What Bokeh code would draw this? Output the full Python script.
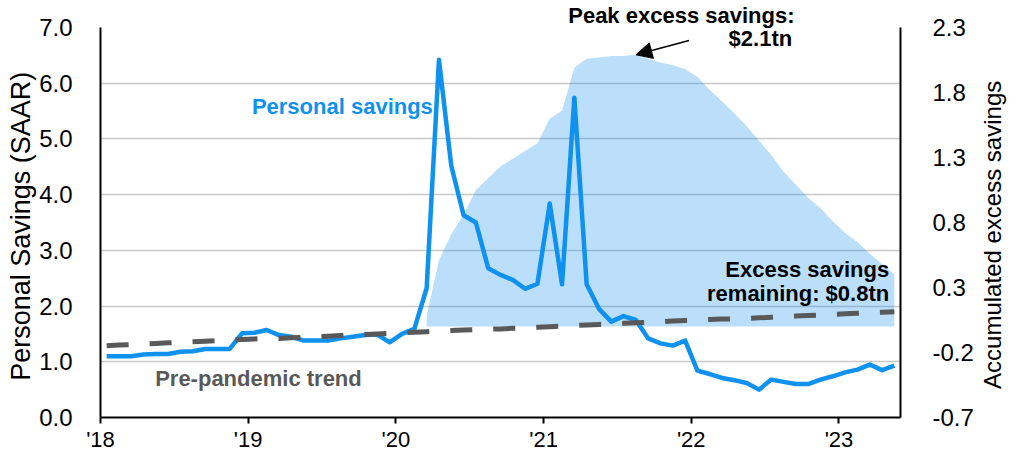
import numpy as np
import pandas as pd
from bokeh.plotting import figure
from bokeh.layouts import row
from bokeh.models import (Range1d, LinearAxis, FixedTicker, NumeralTickFormatter,
                          Label, Arrow, NormalHead)
from bokeh.embed import file_html
from bokeh.resources import INLINE

# ---------------- data ----------------
months = pd.date_range("2018-01-01", periods=65, freq="MS")

personal_savings = [
    1.10, 1.10, 1.10, 1.13, 1.14, 1.14, 1.18, 1.19, 1.23, 1.23, 1.23, 1.51,   # 2018
    1.52, 1.57, 1.48, 1.45, 1.38, 1.38, 1.38, 1.42, 1.45, 1.48, 1.49, 1.35,   # 2019
    1.50, 1.59, 2.32, 6.42, 4.52, 3.63, 3.50, 2.68, 2.56, 2.47, 2.31, 2.40,   # 2020
    3.84, 2.39, 5.74, 2.39, 1.95, 1.72, 1.82, 1.75, 1.42, 1.33, 1.29, 1.38,   # 2021
    0.84, 0.78, 0.71, 0.67, 0.62, 0.50, 0.68, 0.64, 0.60, 0.60, 0.68, 0.74,   # 2022
    0.81, 0.86, 0.95, 0.85, 0.93,                                             # 2023
]

pre_pandemic_trend = [
    1.29, 1.30, 1.31, 1.32, 1.33, 1.34, 1.35, 1.36, 1.37, 1.38, 1.39, 1.40,
    1.41, 1.42, 1.42, 1.43, 1.44, 1.45, 1.46, 1.47, 1.48, 1.49, 1.50, 1.51,
    1.52, 1.53, 1.54, 1.55, 1.56, 1.57, 1.58, 1.59, 1.59, 1.60, 1.61, 1.62,
    1.63, 1.64, 1.65, 1.66, 1.67, 1.68, 1.69, 1.70, 1.71, 1.72, 1.73, 1.74,
    1.75, 1.76, 1.77, 1.77, 1.78, 1.79, 1.80, 1.81, 1.82, 1.83, 1.84, 1.85,
    1.86, 1.87, 1.88, 1.89, 1.90,
]

excess_start = 26  # Mar 2020
accumulated_excess = [
    0.08, 0.51, 0.71, 0.86, 1.05, 1.14, 1.23, 1.29, 1.35, 1.41,
    1.60, 1.66, 1.99, 2.06, 2.07, 2.08, 2.08, 2.09, 2.06, 2.03, 2.01, 1.98,
    1.92, 1.82, 1.73, 1.64, 1.54, 1.43, 1.32, 1.19, 1.09, 0.99, 0.91, 0.81,
    0.72, 0.65, 0.56, 0.48, 0.40,
]

year_ticks = [2018, 2019, 2020, 2021, 2022, 2023]
year_labels = ["'18", "'19", "'20", "'21", "'22", "'23"]
left_ticks = [0, 1, 2, 3, 4, 5, 6, 7]
right_ticks = [-0.7, -0.2, 0.3, 0.8, 1.3, 1.8, 2.3]

# ---------------- derived ----------------
x = np.array(months.year + (months.month - 0.5) / 12.0, dtype=float)
x_area = x[excess_start:excess_start + len(accumulated_excess)]
peak_i = int(np.argmax(accumulated_excess))
peak_x = float(x_area[peak_i])
peak_v = float(accumulated_excess[peak_i])

BLUE = "#0F91F0"
GREY = "#595959"
FONT = "Liberation Sans"

TOP, FRAME_H, BOTTOM = 27, 390, 36
CANVAS_H = TOP + FRAME_H + BOTTOM

p = figure(frame_width=800, frame_height=FRAME_H,
           x_range=Range1d(2018, 2018 + len(months) / 12.0),
           y_range=Range1d(0, 7),
           output_backend="svg", toolbar_location=None,
           min_border_left=100, min_border_right=70,
           min_border_top=TOP, min_border_bottom=BOTTOM)
p.extra_y_ranges = {"right": Range1d(-0.7, 2.3)}
p.outline_line_color = None
p.background_fill_color = "white"
p.border_fill_color = "white"

# top annotation line lives in the title slot (outside the frame)
p.title.text = "Peak excess savings:"
p.title.align = "right"
p.title.offset = 106
p.title.standoff = 0
p.title.text_font = FONT
p.title.text_font_size = "22px"
p.title.text_font_style = "bold"
p.title.text_color = "black"

p.xgrid.visible = False
p.ygrid.grid_line_color = "#C8C8C8"
p.ygrid.grid_line_width = 1.5

# area
p.varea(x=x_area, y1=0, y2=accumulated_excess, y_range_name="right",
        fill_color="#0A8DF0", fill_alpha=0.28)
# lines
p.line(x, personal_savings, line_color=BLUE, line_width=4.5, line_join="round")
p.line(x, pre_pandemic_trend, line_color=GREY, line_width=5, line_dash="22 21")

# left axis
ya = p.yaxis[0]
ya.ticker = FixedTicker(ticks=left_ticks)
ya.formatter = NumeralTickFormatter(format="0.0")
ya.axis_line_color = "black"
ya.axis_line_width = 2
ya.major_tick_line_color = None
ya.minor_tick_line_color = None
ya.major_label_text_font = FONT
ya.major_label_text_font_size = "24px"
ya.major_label_text_color = "black"
ya.major_label_standoff = 22
ya.axis_label = "Personal  Savings (SAAR)"
ya.axis_label_text_font = FONT
ya.axis_label_text_font_size = "27px"
ya.axis_label_text_font_style = "normal"
ya.axis_label_text_color = "black"
ya.axis_label_standoff = 0

# bottom axis
xa = p.xaxis[0]
xa.ticker = FixedTicker(ticks=year_ticks)
xa.major_label_overrides = {t: l for t, l in zip(year_ticks, year_labels)}
xa.axis_line_color = "black"
xa.axis_line_width = 2
xa.major_tick_line_color = "black"
xa.major_tick_line_width = 2
xa.major_tick_in = 0
xa.major_tick_out = 6
xa.minor_tick_line_color = None
xa.major_label_text_font = "'Liberation Sans Narrow', 'Liberation Sans'"
xa.major_label_text_font_size = "22px"
xa.major_label_text_color = "black"
xa.major_label_standoff = 3

# right axis
ra = LinearAxis(y_range_name="right",
                ticker=FixedTicker(ticks=right_ticks),
                formatter=NumeralTickFormatter(format="0.0"))
ra.axis_line_color = "black"
ra.axis_line_width = 2
ra.major_tick_line_color = None
ra.minor_tick_line_color = None
ra.major_label_text_font = FONT
ra.major_label_text_font_size = "24px"
ra.major_label_text_color = "black"
ra.major_label_standoff = 26
p.add_layout(ra, "right")

# annotations
lab = dict(text_font=FONT, text_font_style="bold", text_font_size="22px",
           text_baseline="middle")
p.add_layout(Label(x=2019.025, y=5.59, text="Personal savings", text_color=BLUE, **lab))
p.add_layout(Label(x=2018.37, y=0.70, text="Pre-pandemic trend", text_color=GREY, **lab))
p.add_layout(Label(x=2022.683, y=6.80, text="$2.1tn",
                   text_color="black", text_align="right", **lab))
p.add_layout(Label(x=2023.34, y=2.65, text="Excess savings",
                   text_color="black", text_align="right", **lab))
p.add_layout(Label(x=2023.34, y=2.23, text="remaining: $0.8tn",
                   text_color="black", text_align="right", **lab))

p.add_layout(Arrow(end=NormalHead(size=16, fill_color="black", line_color="black"),
                   x_start=peak_x + 0.36, y_start=2.20, x_end=peak_x, y_end=peak_v,
                   y_range_name="right", line_color="black", line_width=1.5))

# narrow strip carrying the right-hand axis title (reads bottom-to-top)
LBL_W = 31
p2 = figure(frame_width=LBL_W, frame_height=CANVAS_H,
            x_range=Range1d(0, LBL_W), y_range=Range1d(0, CANVAS_H),
            output_backend="svg", toolbar_location=None,
            x_axis_location=None, y_axis_location=None,
            min_border=0)
p2.outline_line_color = None
for g in p2.grid:
    g.visible = False
p2.add_layout(Label(x=16, y=CANVAS_H - 204, text="Accumulated  excess savings",
                    angle=np.pi / 2, text_align="center", text_baseline="middle",
                    text_font=FONT, text_font_size="24px", text_color="black"))

layout = row(p, p2, spacing=0)
open("out.html", "w").write(file_html(layout, INLINE))
